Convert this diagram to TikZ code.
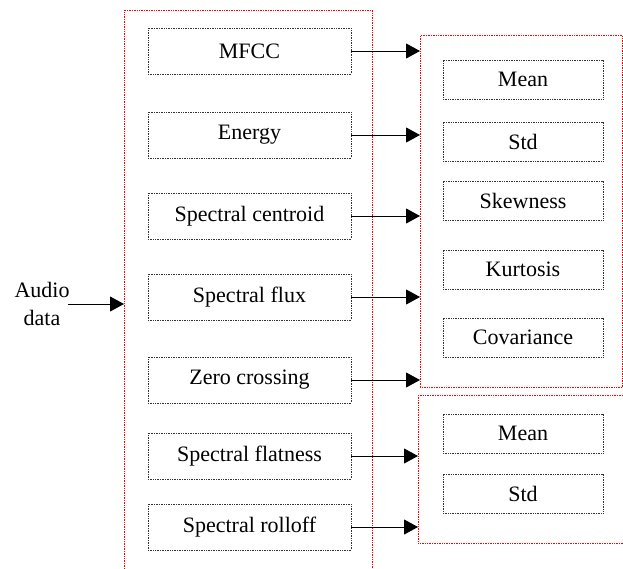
\documentclass[tikz,border=0pt]{standalone}
\usepackage{fontspec}
\setmainfont{Liberation Serif}
\usetikzlibrary{positioning,arrows.meta}

\begin{document}
\begin{tikzpicture}[x=1pt, y=-1pt,
    every node/.style={font=\fontsize{22}{26}\selectfont, inner sep=0pt},
    featbox/.style={draw=black!80, densely dotted, line width=0.7pt, minimum width=203pt, minimum height=46pt},
    statbox/.style={draw=black!80, densely dotted, line width=0.7pt, minimum width=160pt, minimum height=39pt},
    groupbox/.style={draw=red, densely dotted, line width=0.7pt, anchor=north west},
    arr/.style={-{Triangle[length=14pt,width=15pt]}, line width=0.9pt}]
    \useasboundingbox (0,0) rectangle (623,568);
    % containers
    \node[groupbox, minimum width=248pt, minimum height=580pt] (features) at (124,10) {};
    \node[groupbox, minimum width=202pt, minimum height=352pt] (stats) at (420,35) {};
    \node[groupbox, minimum width=205pt, minimum height=148pt] (stats2) at (418,395) {};
    % audio features
    \node[featbox] (mfcc) at (249.5,51) {MFCC};
    \node[featbox] (energy) at (249.5,135) {Energy};
    \node[featbox] (centroid) at (249.5,216) {Spectral centroid};
    \node[featbox] (flux) at (249.5,297) {Spectral flux};
    \node[featbox] (zcr) at (249.5,380) {Zero crossing};
    \node[featbox] (flatness) at (249.5,456) {Spectral flatness};
    \node[featbox] (rolloff) at (249.5,527) {Spectral rolloff};
    % statistics
    \node[statbox] (mean1) at (523,79.5) {Mean};
    \node[statbox] (std1) at (523,141.5) {Std};
    \node[statbox] (skew) at (523,200.5) {Skewness};
    \node[statbox] (kurt) at (523,269.5) {Kurtosis};
    \node[statbox] (cov) at (523,337.5) {Covariance};
    \node[statbox] (mean2) at (523,433.5) {Mean};
    \node[statbox] (std2) at (523,493.5) {Std};
    % input
    \node[align=center, font=\fontsize{22}{28}\selectfont] (audio) at (42,304) {Audio\\data};
    \draw[arr] (68,304) -- (features.west |- audio);
    \draw[arr] (mfcc.east) -- (mfcc.east -| stats.west);
    \draw[arr] (energy.east) -- (energy.east -| stats.west);
    \draw[arr] (centroid.east) -- (centroid.east -| stats.west);
    \draw[arr] (flux.east) -- (flux.east -| stats.west);
    \draw[arr] (zcr.east) -- (zcr.east -| stats.west);
    \draw[arr] (flatness.east) -- (flatness.east -| stats2.west);
    \draw[arr] (rolloff.east) -- (rolloff.east -| stats2.west);
  \end{tikzpicture}
\end{document}
